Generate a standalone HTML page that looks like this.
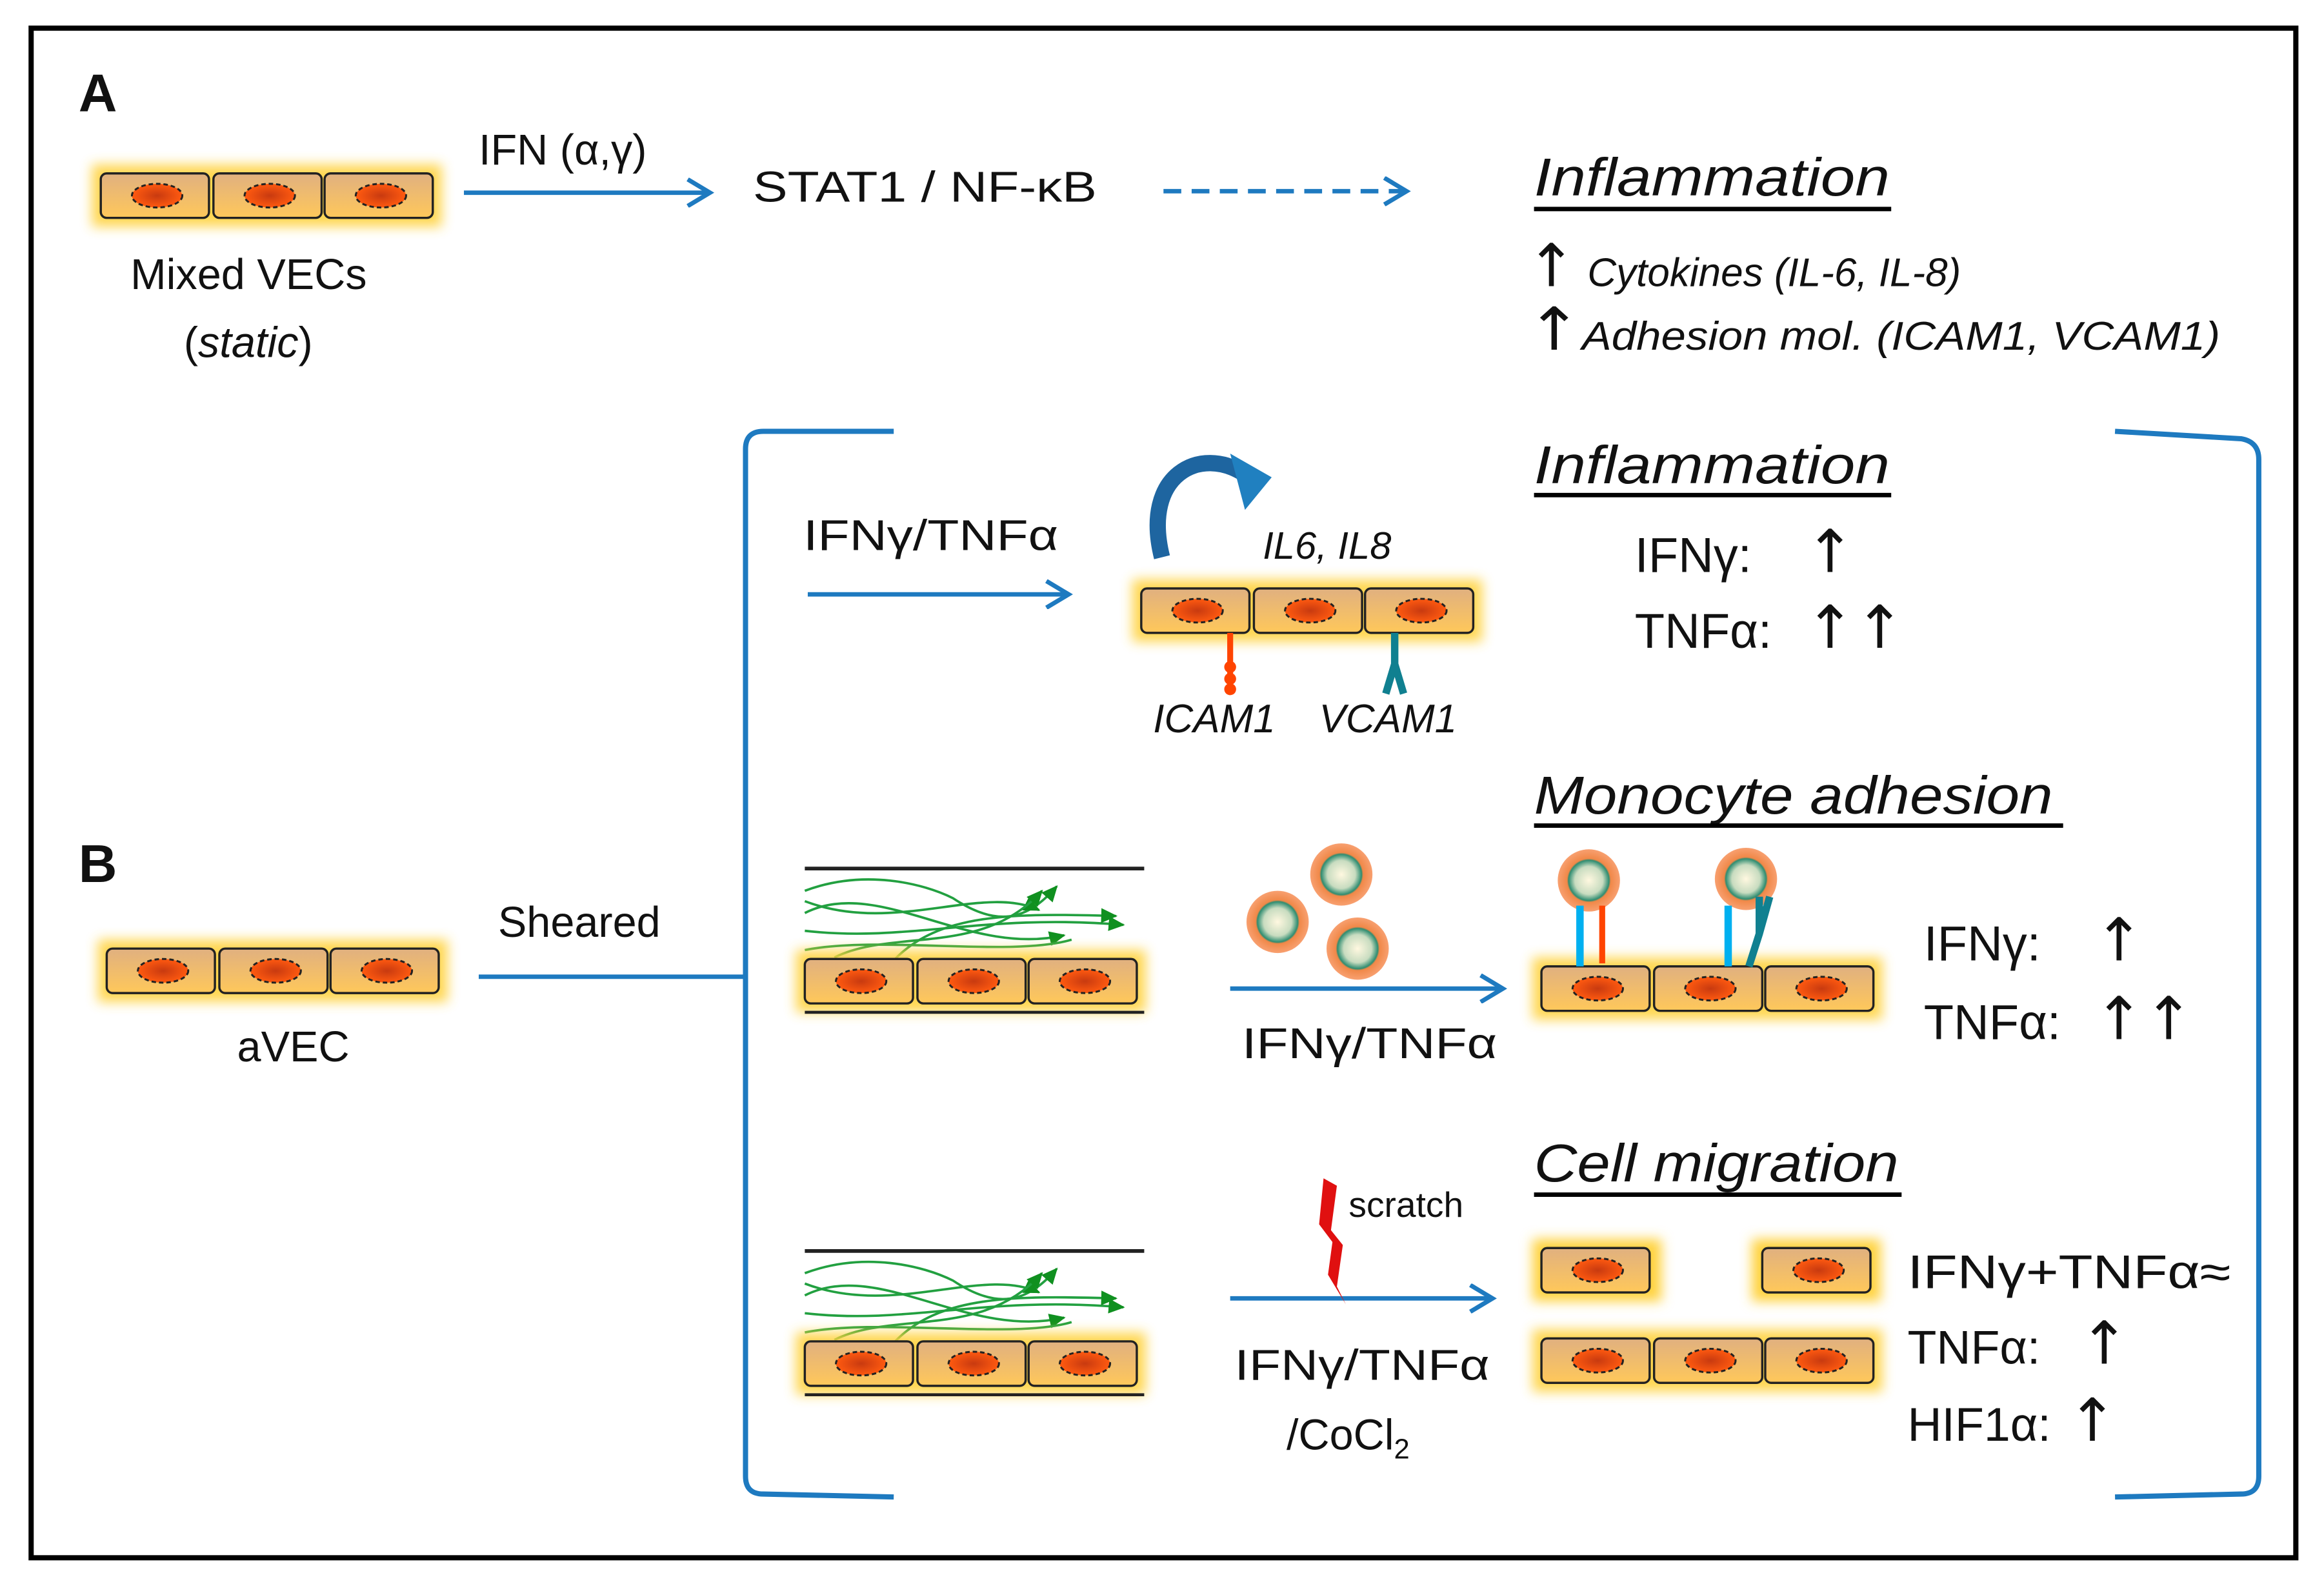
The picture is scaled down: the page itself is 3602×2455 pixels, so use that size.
<!DOCTYPE html>
<html><head><meta charset="utf-8"><style>html,body{margin:0;padding:0;background:#fff}svg{display:block}text{font-family:"Liberation Sans",sans-serif;fill:#111}.ar{font-family:"DejaVu Sans",sans-serif;font-size:40px;font-style:normal}</style></head><body>
<svg width="3602" height="2455" viewBox="0 0 1568 1068.7" xmlns="http://www.w3.org/2000/svg">
<defs>
<radialGradient id="nuc"><stop offset="0" stop-color="#c83a10"/><stop offset="1" stop-color="#ff5a10"/></radialGradient>
<linearGradient id="cb" x1="0" y1="0" x2="0" y2="1"><stop offset="0" stop-color="#e0b080"/><stop offset="1" stop-color="#ffc85a"/></linearGradient>
<radialGradient id="mono"><stop offset="0" stop-color="#fff8e0"/><stop offset="0.45" stop-color="#c8dcc0"/><stop offset="0.65" stop-color="#2e8c70"/><stop offset="0.7" stop-color="#f08848"/><stop offset="1" stop-color="#f8a070"/></radialGradient>
<filter id="gl" x="-30%" y="-60%" width="160%" height="220%"><feGaussianBlur stdDeviation="4"/></filter>
<g id="cell"><rect x="0" y="0" width="73" height="30" rx="4" fill="url(#cb)" stroke="#222" stroke-width="1.5"/><ellipse cx="38" cy="15" rx="17" ry="8" fill="url(#nuc)" stroke="#222" stroke-width="1.3" stroke-dasharray="3,2"/></g>
<g id="row3"><rect x="-6" y="-6" width="236" height="42" fill="#ffd23c" filter="url(#gl)" opacity="0.9"/><use href="#cell" x="0"/><use href="#cell" x="76"/><use href="#cell" x="151"/></g>
<g id="mc"><circle r="21" fill="url(#mono)"/></g>
<marker id="ah2" viewBox="0 0 20 20" markerWidth="20" markerHeight="20" refX="16" refY="10" orient="auto" markerUnits="userSpaceOnUse"><path d="M2,1 L17,10 L2,19" fill="none" stroke="#1e7ac0" stroke-width="3"/></marker>
<marker id="ga" markerWidth="12" markerHeight="12" refX="10" refY="6" orient="auto" markerUnits="userSpaceOnUse"><path d="M0,1 L11,6 L0,11z" fill="#109020"/></marker>
<g id="flow"><line x1="0" y1="0" x2="229" y2="0" stroke="#222" stroke-width="2.5"/>
<g fill="none" stroke="#22a040" stroke-width="1.6">
<path d="M0,15 C40,0 80,10 100,20 C130,40 150,35 170,12" marker-end="url(#ga)"/><path d="M0,22 C60,45 120,10 158,28" marker-end="url(#ga)"/><path d="M0,42 C70,50 120,30 215,38" marker-end="url(#ga)"/><path d="M0,30 C50,5 110,60 175,45" marker-end="url(#ga)"/><path d="M20,60 C60,40 120,60 160,15" marker-end="url(#ga)"/><path d="M60,62 C90,30 140,30 210,32" marker-end="url(#ga)"/><path d="M0,55 C50,45 140,60 180,48"/></g>
<use href="#row3" x="0" y="61"/><line x1="0" y1="97" x2="229" y2="97" stroke="#222" stroke-width="2"/></g>
</defs>
<rect x="21" y="19" width="1528" height="1032" fill="#fff" stroke="#000" stroke-width="3.5"/>
<text x="53" y="75" font-size="36" font-weight="bold">A</text>
<text x="53" y="595" font-size="36" font-weight="bold">B</text>
<use href="#row3" x="68" y="117"/>
<text x="88" y="195" font-size="29">Mixed VECs</text>
<text x="124" y="241" font-size="29">(<tspan font-style="italic">static</tspan>)</text>
<line x1="313" y1="130" x2="478" y2="130" stroke="#1e7ac0" stroke-width="3" marker-end="url(#ah2)"/>
<text x="323" y="111" font-size="29">IFN (α,γ)</text>
<text x="508" y="136" font-size="29" textLength="232" lengthAdjust="spacingAndGlyphs">STAT1  / NF-κB</text>
<line x1="785" y1="129" x2="948" y2="129" stroke="#1e7ac0" stroke-width="3" stroke-dasharray="12,7" marker-end="url(#ah2)"/>
<text x="1035" y="132" font-size="36" font-style="italic" textLength="240" lengthAdjust="spacingAndGlyphs">Inflammation</text>
<line x1="1035" y1="141" x2="1276" y2="141" stroke="#000" stroke-width="3"/>
<text x="1030" y="193" font-size="27" font-style="italic"><tspan class="ar" font-size="34">↑</tspan> Cytokines (IL-6, IL-8)</text>
<text x="1030" y="236" font-size="27" font-style="italic" textLength="468" lengthAdjust="spacingAndGlyphs"><tspan class="ar" font-size="34">↑</tspan>Adhesion mol. (ICAM1, VCAM1)</text>
<path d="M603,291 L515,291 Q503,291 503,303 L503,996 Q503,1008 515,1008 L603,1010" fill="none" stroke="#1e7ac0" stroke-width="3.5"/>
<path d="M1427,291 L1512,296 Q1524,298 1524,310 L1524,996 Q1524,1008 1512,1008 L1427,1010" fill="none" stroke="#1e7ac0" stroke-width="3.5"/>
<use href="#row3" x="72" y="640"/>
<text x="160" y="716" font-size="29">aVEC</text>
<line x1="323" y1="659" x2="503" y2="659" stroke="#1e7ac0" stroke-width="3"/>
<text x="336" y="632" font-size="29">Sheared</text>
<text x="542" y="371" font-size="29" textLength="172" lengthAdjust="spacingAndGlyphs">IFNγ/TNFα</text>
<line x1="545" y1="401" x2="720" y2="401" stroke="#1e7ac0" stroke-width="3" marker-end="url(#ah2)"/>
<path d="M784,376 C770,320 810,300 840,320" fill="none" stroke="#1e65a0" stroke-width="11"/>
<path d="M830,306 L858,322 L840,344z" fill="#2080c0"/>
<text x="852" y="377" font-size="26" font-style="italic">IL6, IL8</text>
<use href="#row3" x="770" y="397"/>
<line x1="830" y1="427" x2="830" y2="466" stroke="#ff4400" stroke-width="4"/><circle cx="830" cy="450" r="4" fill="#ff4400"/><circle cx="830" cy="458" r="4" fill="#ff4400"/><circle cx="830" cy="465" r="4" fill="#ff4400"/>
<path d="M941,427 L941,448 L935,468 M941,448 L947,468" fill="none" stroke="#108090" stroke-width="5"/>
<text x="778" y="494" font-size="27" font-style="italic">ICAM1</text>
<text x="890" y="494" font-size="27" font-style="italic">VCAM1</text>
<text x="1035" y="326" font-size="36" font-style="italic" textLength="240" lengthAdjust="spacingAndGlyphs">Inflammation</text>
<line x1="1035" y1="334" x2="1276" y2="334" stroke="#000" stroke-width="3"/>
<text x="1103" y="386" font-size="33">IFNγ:   <tspan class="ar" x="1218" font-size="44">↑</tspan></text>
<text x="1103" y="437" font-size="33">TNFα: <tspan class="ar" font-size="44" x="1218">↑↑</tspan></text>
<use href="#flow" x="543" y="586"/>
<use href="#mc" x="905" y="590"/><use href="#mc" x="862" y="622"/><use href="#mc" x="916" y="640"/>
<line x1="830" y1="667" x2="1013" y2="667" stroke="#1e7ac0" stroke-width="3" marker-end="url(#ah2)"/>
<text x="838" y="714" font-size="29" textLength="172" lengthAdjust="spacingAndGlyphs">IFNγ/TNFα</text>
<text x="1035" y="549" font-size="36" font-style="italic" textLength="350" lengthAdjust="spacingAndGlyphs">Monocyte adhesion</text>
<line x1="1035" y1="557" x2="1392" y2="557" stroke="#000" stroke-width="3"/>
<use href="#row3" x="1040" y="652"/>
<use href="#mc" x="1072" y="594"/><use href="#mc" x="1178" y="593"/>
<line x1="1066" y1="611" x2="1066" y2="652" stroke="#00b0f0" stroke-width="5"/><line x1="1081" y1="611" x2="1081" y2="650" stroke="#ff4400" stroke-width="4"/>
<line x1="1166" y1="611" x2="1166" y2="652" stroke="#00b0f0" stroke-width="5"/><path d="M1187,605 L1187,630 L1180,652 M1187,630 L1194,605" fill="none" stroke="#108090" stroke-width="5"/>
<text x="1298" y="648" font-size="33">IFNγ:   <tspan class="ar" x="1413" font-size="44">↑</tspan></text>
<text x="1298" y="701" font-size="33">TNFα: <tspan class="ar" x="1413" font-size="44">↑↑</tspan></text>
<use href="#flow" x="543" y="844"/>
<line x1="830" y1="876" x2="1006" y2="876" stroke="#1e7ac0" stroke-width="3" marker-end="url(#ah2)"/>
<path d="M893,795 L902,800 L898,830 L906,840 L902,868 L908,880 L896,860 L899,838 L890,826z" fill="#e01010"/>
<text x="910" y="821" font-size="24">scratch</text>
<text x="833" y="931" font-size="29" textLength="172" lengthAdjust="spacingAndGlyphs">IFNγ/TNFα</text>
<text x="868" y="978" font-size="29">/CoCl<tspan font-size="19" dy="6">2</tspan></text>
<text x="1035" y="797" font-size="36" font-style="italic" textLength="246" lengthAdjust="spacingAndGlyphs">Cell migration</text>
<line x1="1035" y1="806" x2="1283" y2="806" stroke="#000" stroke-width="3"/>
<rect x="1034" y="836" width="87" height="42" fill="#ffd23c" filter="url(#gl)"/><use href="#cell" x="1040" y="842"/>
<rect x="1182" y="836" width="87" height="42" fill="#ffd23c" filter="url(#gl)"/><use href="#cell" x="1189" y="842"/>
<use href="#row3" x="1040" y="903"/>
<text x="1287" y="869" font-size="32" textLength="218" lengthAdjust="spacingAndGlyphs">IFNγ+TNFα≈</text>
<text x="1287" y="920" font-size="32">TNFα: <tspan class="ar" x="1403" font-size="44">↑</tspan></text>
<text x="1287" y="972" font-size="32">HIF1α:<tspan class="ar" x="1395" font-size="44">↑</tspan></text>
</svg>
</body></html>
